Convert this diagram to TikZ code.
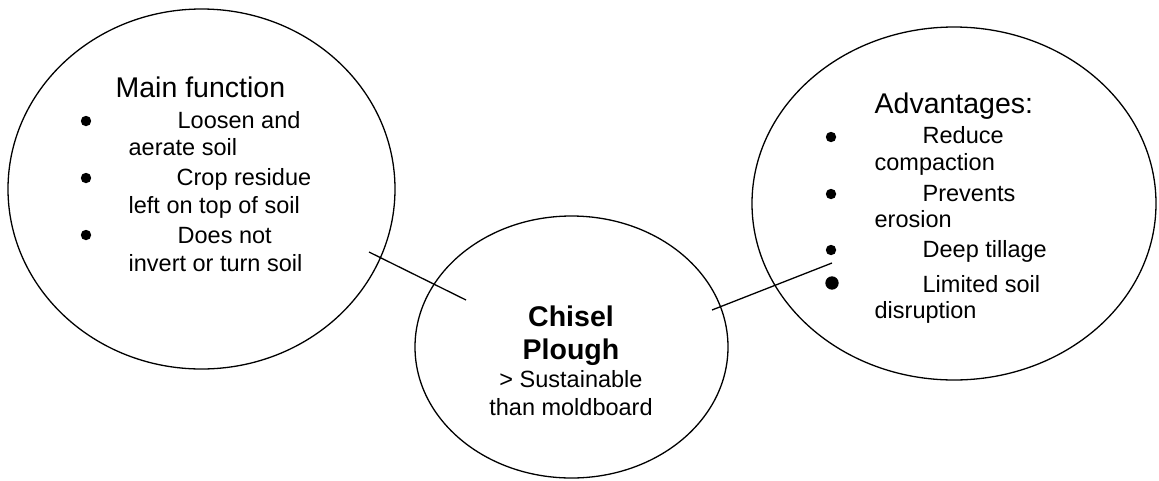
\documentclass[tikz,border=0pt]{standalone}
\usepackage{fontspec}
\setmainfont{Liberation Sans}
\usetikzlibrary{shapes.geometric}

\begin{document}
\begin{tikzpicture}[x=1pt, y=-1pt, line width=1.3pt,
  bubble/.style={draw, ellipse, inner sep=0pt},
  head/.style={anchor=base west, inner sep=0pt, font=\fontsize{28.5}{30}\selectfont},
  item/.style={anchor=base west, inner sep=0pt, font=\fontsize{23.5}{26}\selectfont}]
\useasboundingbox (0,0) rectangle (1159,480);

% the three bubbles
\node[bubble, minimum width=387pt, minimum height=360pt] (mainfn) at (201.5,189) {};
\node[bubble, minimum width=313pt, minimum height=262pt] (chisel) at (571.5,347) {};
\node[bubble, minimum width=404pt, minimum height=353pt] (advant) at (954,203.5) {};

% main function
\node[head] (mainhead) at (115,97) {Main function};
\draw[fill] (86,121) circle[radius=4.5];
\draw[fill] (86,178) circle[radius=4.5];
\draw[fill] (86,235) circle[radius=4.5];
\node[item] (loosen) at (177,128) {Loosen and};
\node[item] (aerate) at (128,155) {aerate soil};
\node[item] (crop) at (176,185) {Crop residue};
\node[item] (lefttop) at (128,213) {left on top of soil};
\node[item] (doesnot) at (177,243) {Does not};
\node[item] (invert) at (128,271) {invert or turn soil};

% chisel plough
\node[anchor=base, inner sep=0pt, font=\bfseries\fontsize{28.5}{30}\selectfont] (chiselt) at (571,326) {Chisel};
\node[anchor=base, inner sep=0pt, font=\bfseries\fontsize{28.5}{30}\selectfont] (plough) at (571,359) {Plough};
\node[anchor=base, inner sep=0pt, font=\fontsize{23.5}{26}\selectfont] (sustain) at (571,387) {> Sustainable};
\node[anchor=base, inner sep=0pt, font=\fontsize{23.5}{26}\selectfont] (moldb) at (571,415) {than moldboard};

% advantages
\node[head] (advhead) at (874,113) {Advantages:};
\draw[fill] (831,137) circle[radius=4.5];
\draw[fill] (831,194) circle[radius=4.5];
\draw[fill] (831,250) circle[radius=4.5];
\draw[fill] (832,283) circle[radius=6];
\node[item] (reduce) at (922,143) {Reduce};
\node[item] (compact) at (874,170) {compaction};
\node[item] (prevent) at (922,201) {Prevents};
\node[item] (erosion) at (874,227) {erosion};
\node[item] (deep) at (922,257) {Deep tillage};
\node[item] (limited) at (922,292) {Limited soil};
\node[item] (disrupt) at (874,318) {disruption};

% connectors
\coordinate (lin1) at (369,252);
\coordinate (lin2) at (466,300);
\coordinate (rin1) at (712,310);
\coordinate (rin2) at (832,263);
\draw (lin1) -- (lin2);
\draw (rin1) -- (rin2);
\end{tikzpicture}
\end{document}
